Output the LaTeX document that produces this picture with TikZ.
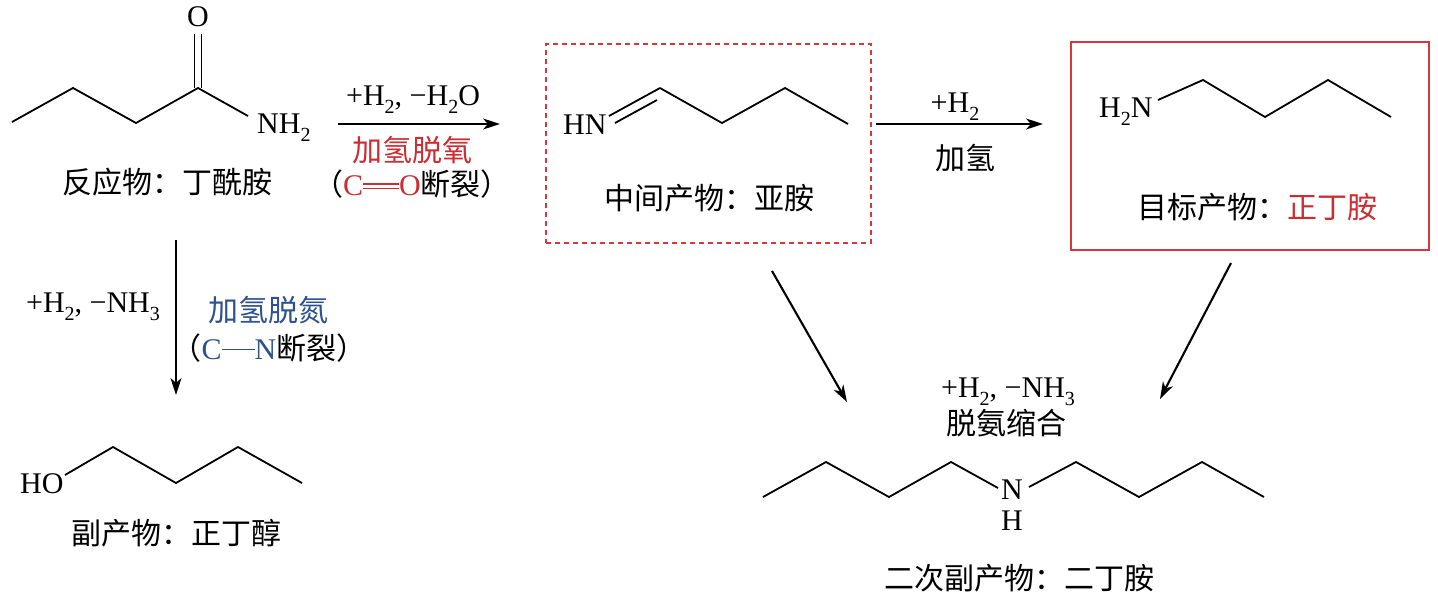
\documentclass[tikz,border=0pt]{standalone}
\usepackage{fontspec}
\setmainfont{Liberation Serif}
\newfontfamily\cjk{Noto Sans CJK SC}
\usetikzlibrary{arrows.meta}
\definecolor{myred}{RGB}{205,45,50}
\definecolor{myblue}{RGB}{45,80,145}
\definecolor{boxred}{RGB}{212,55,60}
\newcommand\sbs[1]{\raisebox{-0.28em}{\fontsize{20}{20}\selectfont #1}}
\newcommand\dbond{\makebox[1.2em]{\rlap{\rule[0.2em]{1.2em}{0.06em}}\rule[0.36em]{1.2em}{0.06em}}}
\newcommand\sbond{\rule[0.3em]{1.1em}{0.06em}}
\begin{document}
\begin{tikzpicture}[x=1pt,y=-1pt,
 txt/.style={inner sep=0pt,font=\fontsize{30}{34}\selectfont},
 bond/.style={line width=1.8pt,line join=miter},
 rxn/.style={line width=2.1pt,-{Stealth[length=17pt,width=11pt,inset=5pt]}},
 dashbox/.style={draw=boxred,line width=1.6pt,dash pattern=on 5pt off 4pt,inner sep=0pt},
 solidbox/.style={draw=boxred,line width=1.6pt,inner sep=0pt}]
\useasboundingbox (0,0) rectangle (1438,597);
% butanamide
\draw[bond] (12,122) -- (73,88) -- (136,123) -- (198,88) -- (248,116);
\draw[bond] (194.5,88) -- (194.5,34);
\draw[bond] (201.5,88) -- (201.5,34);
\node[txt] (o1) at (198,17) {O};
\node[txt,anchor=base west] (n1) at (257,133) {NH\sbs{2}};
\node[txt] (lab1) at (167,182) {\cjk 反应物：丁酰胺};
% arrow 1
\coordinate (a1s) at (338,124);
\coordinate (a1e) at (500,124);
\draw[rxn] (a1s) -- (a1e);
\node[txt,anchor=base] (t1a) at (413,105) {+H\sbs{2}, −H\sbs{2}O};
\node[txt,text=myred] (t1b) at (412,150) {\cjk 加氢脱氧};
\node[txt] (t1c) at (412,184) {{\cjk （}\textcolor{myred}{C\dbond O}{\cjk 断裂）}};
% imine box
\node[dashbox,minimum width=325pt,minimum height=199pt] (imbox) at (708.5,143.5) {};
\node[txt,anchor=base west] (hn) at (563,134) {HN};
\draw[bond] (609,116) -- (660,88);
\draw[bond] (615,123) -- (657,100);
\draw[bond] (660,88) -- (722,123) -- (785,88) -- (848,124);
\node[txt] (lab2) at (709,198) {\cjk 中间产物：亚胺};
% arrow 2
\coordinate (a2s) at (876,124);
\coordinate (a2e) at (1043,124);
\draw[rxn] (a2s) -- (a2e);
\node[txt,anchor=base] (t2a) at (955,112) {+H\sbs{2}};
\node[txt] (t2b) at (965,158) {\cjk 加氢};
% amine box
\node[solidbox,minimum width=358pt,minimum height=208pt] (amBox) at (1250,146) {};
\node[txt,anchor=base west] (h2n) at (1099,117) {H\sbs{2}N};
\draw[bond] (1158,100) -- (1203,80) -- (1265,117) -- (1328,80) -- (1391,117);
\node[txt] (lab3) at (1257,207) {{\cjk 目标产物：}\textcolor{myred}{\cjk 正丁胺}};
% arrow 3 (down)
\coordinate (a3s) at (176,240);
\coordinate (a3e) at (176,395);
\draw[rxn] (a3s) -- (a3e);
\node[txt,anchor=base] (t3a) at (93,312) {+H\sbs{2}, −NH\sbs{3}};
\node[txt,text=myblue] (t3b) at (268,310) {\cjk 加氢脱氮};
\node[txt] (t3c) at (269,348) {{\cjk （}\textcolor{myblue}{C\sbond N}{\cjk 断裂）}};
% butanol
\node[txt,anchor=base west] (ho) at (20,493) {HO};
\draw[bond] (65,475) -- (113,447) -- (176,483) -- (238,447) -- (302,483);
\node[txt] (lab4) at (176,533) {\cjk 副产物：正丁醇};
% diagonal arrows
\coordinate (a4s) at (772,271);
\coordinate (a4e) at (847,402);
\draw[rxn] (a4s) -- (a4e);
\coordinate (a5s) at (1231,263);
\coordinate (a5e) at (1160,399);
\draw[rxn] (a5s) -- (a5e);
\node[txt,anchor=base] (t5a) at (1008,397) {+H\sbs{2}, −NH\sbs{3}};
\node[txt] (t5b) at (1006,423) {\cjk 脱氨缩合};
% dibutylamine
\draw[bond] (763,497) -- (826,462) -- (889,497) -- (951,462) -- (998,488);
\node[txt] (n2) at (1012,490) {N};
\node[txt] (h2) at (1012,521) {H};
\draw[bond] (1029,487) -- (1076,462) -- (1139,497) -- (1202,462) -- (1264,497);
\node[txt] (lab5) at (1019,578) {\cjk 二次副产物：二丁胺};
\end{tikzpicture}
\end{document}
